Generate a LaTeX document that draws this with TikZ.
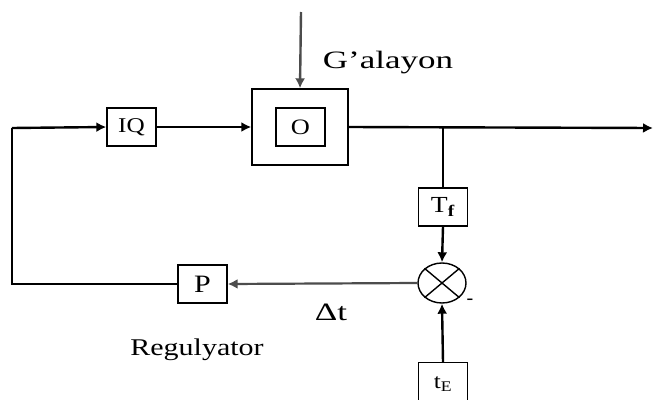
\documentclass[tikz,border=0pt]{standalone}
\usepackage{fontspec}
\setmainfont{Liberation Serif}
\usepackage{graphicx}
\usetikzlibrary{arrows.meta,shapes.geometric}
\newcommand\hstr[2]{\scalebox{#1}[1]{#2}}
\begin{document}
\begin{tikzpicture}[x=1pt,y=-1pt,
  blk/.style={draw,line width=1.4pt,minimum width=49pt,minimum height=38pt,inner sep=0pt},
  arr/.style={line width=2.4pt,-{Latex[length=10pt,width=10pt]}},
  garr/.style={line width=2.4pt,draw=black!70,-{Latex[length=10pt,width=10pt]}},
  lbl/.style={inner sep=0pt}]
\clip (0,0) rectangle (653,399);
\fill[white] (0,0) rectangle (653,399);
% blocks
\node[blk,font=\fontsize{21}{24}\selectfont] (iq) at (131.5,127) {\hstr{1.2}{IQ}};
\node[blk,minimum width=96pt,minimum height=76pt] (obj) at (300,127) {};
\node[blk,font=\fontsize{22}{24}\selectfont] (o) at (300.5,127) {\hstr{1.2}{O}};
\node[blk,font=\fontsize{23}{24}\selectfont] (tf) at (443,207) {\hstr{1.2}{T\textsubscript{\textbf{f}}}};
\node[draw,ellipse,line width=1.4pt,minimum width=48pt,minimum height=40pt,inner sep=0pt] (sum) at (442,283) {};
\draw[line width=1.4pt] (sum.north east) -- (sum.south west) (sum.north west) -- (sum.south east);
\node[blk,minimum height=44pt,anchor=north,font=\fontsize{21}{24}\selectfont] (te) at (443,362) {\raisebox{5pt}{\hstr{1.2}{t\textsubscript{E}}}};
\node[blk,font=\fontsize{25}{28}\selectfont] (p) at (202.5,284) {\hstr{1.2}{P}};
% coordinates
\coordinate (lc) at (12,128);
\coordinate (lb) at (12,284);
\coordinate (out) at (653,128);
\coordinate (br) at (443,128);
\coordinate (dtop) at (301,12);
% connectors
\draw[arr] (lc) -- (iq.west);
\draw[arr] (iq.east) -- (obj.west);
\draw[arr] (obj.east) -- (out);
\draw[line width=1.7pt] (br) -- (tf.north);
\draw[arr] (tf.south) -- (sum.north);
\draw[arr] (te.north) -- (sum.south);
\draw[garr,line width=2.2pt] (sum.west) -- (p.east);
\draw[line width=1.7pt] (p.west) -- (lb) -- (lc);
\draw[garr] (dtop) -- (obj.north);
% labels
\node[lbl,font=\fontsize{25}{28}\selectfont] (gal) at (388,63) {\hstr{1.4}{G’alayon}};
\node[lbl,font=\fontsize{25}{28}\selectfont] (dt) at (331,312) {\hstr{1.4}{Δt}};
\node[lbl,font=\fontsize{24}{28}\selectfont] (reg) at (197,350) {\hstr{1.25}{Regulyator}};
\node[lbl,font=\fontsize{20}{24}\selectfont] (minus) at (470,302) {-};
\end{tikzpicture}
\end{document}
